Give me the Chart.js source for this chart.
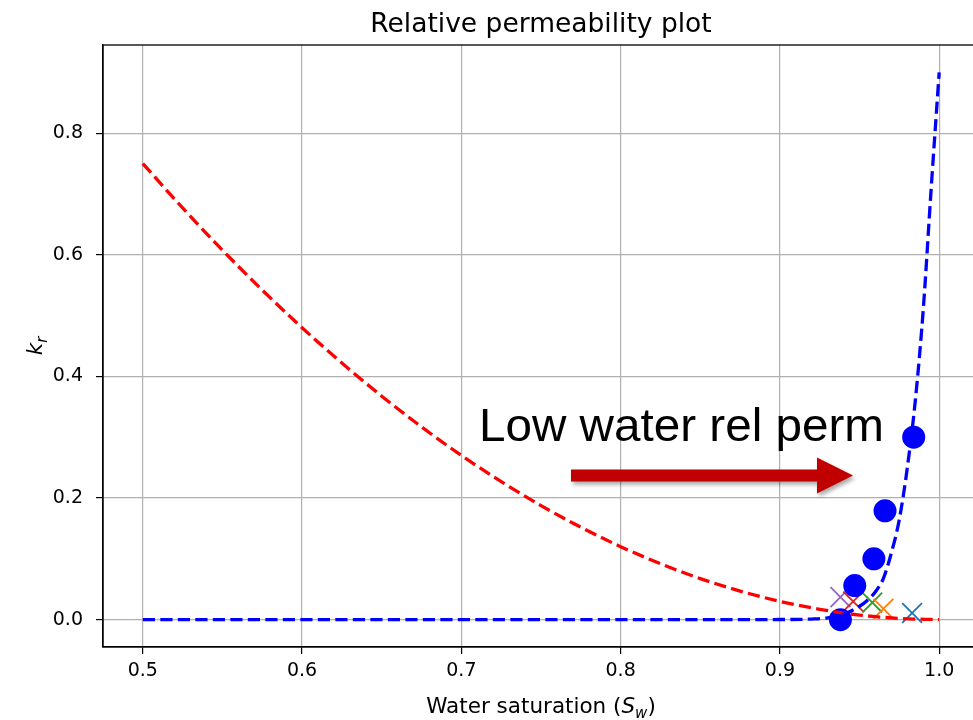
<!DOCTYPE html>
<html>
<head>
<meta charset="utf-8">
<title>Relative permeability plot</title>
<script src="https://cdn.jsdelivr.net/npm/chart.js@4.4.1/dist/chart.umd.min.js"></script>
<style>
  html, body { margin: 0; padding: 0; background: #fff; overflow: hidden; }
  #wrap { width: 990px; height: 720px; }
</style>
</head>
<body>
<div id="wrap"><canvas id="krChart" width="990" height="720"></canvas></div>
<script>
// oil relative permeability curve (red dashed)
const swOil = [0.5, 0.525, 0.55, 0.575, 0.6, 0.625, 0.65, 0.675, 0.7, 0.725, 0.75,
  0.775, 0.8, 0.825, 0.85, 0.875, 0.9, 0.925, 0.95, 0.975, 1.0];
const krOil = [0.75, 0.677, 0.6075, 0.542, 0.48, 0.422, 0.3675, 0.317, 0.27, 0.227, 0.1875,
  0.152, 0.12, 0.092, 0.0675, 0.047, 0.03, 0.017, 0.0075, 0.002, 0.0];

// water relative permeability curve (blue dashed)
const swWater = [0.5, 0.6, 0.7, 0.8, 0.9, 0.92, 0.93, 0.94, 0.95, 0.955, 0.96,
  0.965, 0.97, 0.975, 0.98, 0.985, 0.99, 0.995, 1.0];
const krWater = [0, 0, 0, 0, 0.0002, 0.001, 0.003, 0.009, 0.022, 0.032, 0.046,
  0.068, 0.11, 0.165, 0.25, 0.36, 0.51, 0.71, 0.9];

// measured water points (blue dots)
const swMeasured = [0.938, 0.947, 0.959, 0.966, 0.984];
const krMeasured = [0.0, 0.056, 0.10, 0.179, 0.30];

// oil points at the same saturations (crosses)
const swCross = [0.983, 0.965, 0.958, 0.946, 0.938];
const krCross = [0.011, 0.018, 0.028, 0.030, 0.037];

const xTicks = [0.5, 0.6, 0.7, 0.8, 0.9, 1.0];
const yTicks = [0.0, 0.2, 0.4, 0.6, 0.8];

const crossColors = ['#1f77b4', '#ff7f0e', '#2ca02c', '#d62728', '#9467bd'];
const FONT = '"DejaVu Sans", sans-serif';

function pairs(xs, ys) {
  return xs.map((x, i) => ({ x: x, y: ys[i] }));
}

// lower order is drawn last: curves on top, then dots, crosses underneath
const datasets = [
  {
    data: pairs(swOil, krOil),
    showLine: true, pointRadius: 0, borderColor: '#ff0000', borderWidth: 3.3,
    borderDash: [12.2, 5.3], cubicInterpolationMode: 'monotone', order: 1
  },
  {
    data: pairs(swWater, krWater),
    showLine: true, pointRadius: 0, borderColor: '#0000ff', borderWidth: 3.3,
    borderDash: [12.2, 5.3], cubicInterpolationMode: 'monotone', order: 0
  },
  {
    data: pairs(swMeasured, krMeasured),
    pointRadius: 11.5, pointBackgroundColor: '#0000ff', pointBorderWidth: 0,
    borderColor: '#0000ff', order: 2
  }
];
swCross.forEach((sw, i) => {
  datasets.push({
    data: [{ x: sw, y: krCross[i] }],
    pointStyle: 'crossRot', pointRadius: 14, pointBorderWidth: 1.8,
    borderColor: crossColors[i], pointBorderColor: crossColors[i], order: 3
  });
});

// title, axis labels with math text, box spines and the callout arrow
const decorations = {
  id: 'decorations',
  afterDraw(chart) {
    const ctx = chart.ctx;
    const a = chart.chartArea;
    ctx.save();

    ctx.strokeStyle = '#000';
    ctx.lineWidth = 1.3;
    ctx.strokeRect(a.left, a.top, a.right - a.left, a.bottom - a.top);

    ctx.fillStyle = '#000';
    ctx.textBaseline = 'alphabetic';
    ctx.textAlign = 'center';
    ctx.font = '26.5px ' + FONT;
    ctx.fillText('Relative permeability plot', (a.left + a.right) / 2, 31.5);

    function drawRuns(runs, cx, baseY) {
      ctx.textAlign = 'left';
      let total = 0;
      runs.forEach(r => { ctx.font = r.f; r.w = ctx.measureText(r.t).width; total += r.w; });
      let x = cx - total / 2;
      runs.forEach(r => { ctx.font = r.f; ctx.fillText(r.t, x, baseY + (r.dy || 0)); x += r.w; });
    }

    drawRuns([
      { t: 'Water saturation (', f: '21.5px ' + FONT },
      { t: 'S', f: 'italic 21.5px ' + FONT },
      { t: 'w', f: 'italic 15px ' + FONT, dy: 4.5 },
      { t: ')', f: '21.5px ' + FONT }
    ], (a.left + a.right) / 2, 713);

    ctx.save();
    ctx.translate(42, (a.top + a.bottom) / 2);
    ctx.rotate(-Math.PI / 2);
    drawRuns([
      { t: 'k', f: 'italic 21.5px ' + FONT },
      { t: 'r', f: 'italic 15px ' + FONT, dy: 4.5 }
    ], 0, 0);
    ctx.restore();

    // callout text
    ctx.textAlign = 'left';
    ctx.font = '47px "Liberation Sans", Arial, sans-serif';
    const label = 'Low water rel perm';
    const w = ctx.measureText(label).width;
    ctx.save();
    ctx.translate(479, 441);
    ctx.scale(405 / w, 1);
    ctx.fillText(label, 0, 0);
    ctx.restore();

    // callout arrow
    ctx.save();
    ctx.shadowColor = 'rgba(0,0,0,0.35)';
    ctx.shadowBlur = 4;
    ctx.shadowOffsetX = 2;
    ctx.shadowOffsetY = 3;
    ctx.fillStyle = '#c00000';
    ctx.beginPath();
    ctx.moveTo(571, 469.5);
    ctx.lineTo(817, 469.5);
    ctx.lineTo(817, 457.5);
    ctx.lineTo(853, 475.5);
    ctx.lineTo(817, 493.5);
    ctx.lineTo(817, 481.5);
    ctx.lineTo(571, 481.5);
    ctx.closePath();
    ctx.fill();
    ctx.restore();

    ctx.restore();
  }
};

const gridStyle = {
  color: '#b0b0b0', lineWidth: 1.2, tickColor: '#000', tickLength: 7, tickWidth: 1.2
};

// fixed box sizes, no extra room reserved for edge labels
function fixBox(size) {
  return s => {
    if (s.isHorizontal()) s.height = size; else s.width = size;
    s.paddingLeft = 0; s.paddingRight = 0; s.paddingTop = 0; s.paddingBottom = 0;
  };
}

new Chart(document.getElementById('krChart'), {
  type: 'scatter',
  data: { datasets: datasets },
  options: {
    responsive: false,
    animation: false,
    devicePixelRatio: 1,
    layout: { autoPadding: false, padding: { top: 45, right: 11, left: 0, bottom: 0 } },
    plugins: { legend: { display: false }, tooltip: { enabled: false } },
    scales: {
      x: {
        type: 'linear', min: 0.475, max: 1.025,
        afterBuildTicks: s => { s.ticks = xTicks.map(v => ({ value: v })); },
        afterFit: fixBox(73),
        ticks: {
          callback: v => v.toFixed(1), color: '#000', padding: 6,
          autoSkip: false, maxRotation: 0, font: { family: FONT, size: 19 }
        },
        grid: gridStyle,
        border: { color: '#000', width: 1.3 }
      },
      y: {
        type: 'linear', min: -0.045, max: 0.945,
        afterBuildTicks: s => { s.ticks = yTicks.map(v => ({ value: v })); },
        afterFit: fixBox(103),
        ticks: {
          callback: v => v.toFixed(1), color: '#000', padding: 13,
          autoSkip: false, font: { family: FONT, size: 19 }
        },
        grid: gridStyle,
        border: { color: '#000', width: 1.3 }
      }
    }
  },
  plugins: [decorations]
});
</script>
</body>
</html>
